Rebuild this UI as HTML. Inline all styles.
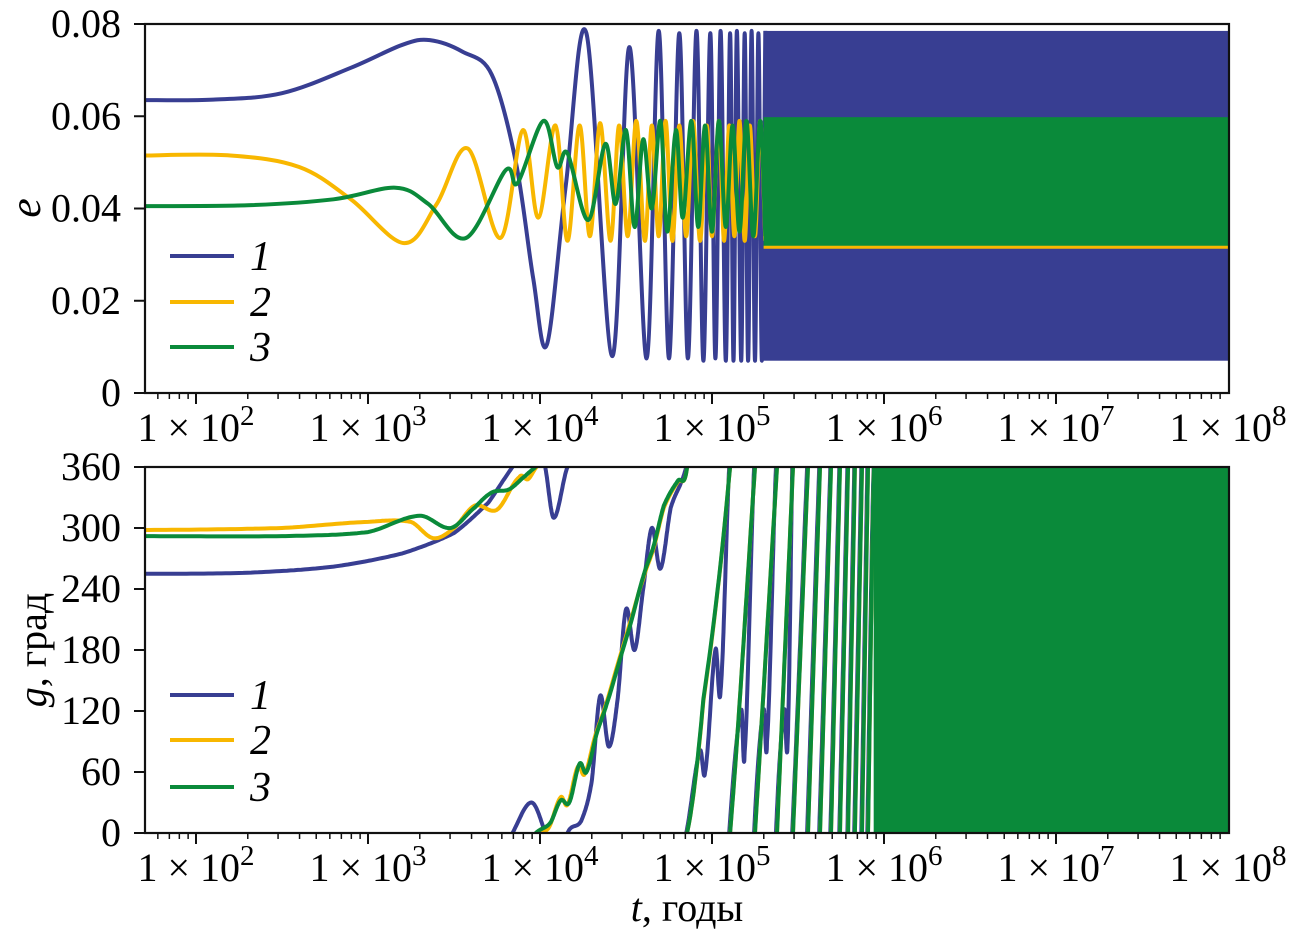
<!DOCTYPE html>
<html><head><meta charset="utf-8"><style>
html,body{margin:0;padding:0;background:#fff;}
svg text{font-family:"Liberation Serif",serif;fill:#000;}
</style></head><body>
<svg id="chart" xmlns="http://www.w3.org/2000/svg" width="1290" height="934" viewBox="0 0 1290 934">
<g id="topPanel"></g>
<g id="botPanel"></g>
</svg>
<script>
// ---- data (x in log10 years) ----
const xTickExps = [2,3,4,5,6,7,8];
const eTickValues = [0,0.02,0.04,0.06,0.08];
const eTickLabels = ["0","0.02","0.04","0.06","0.08"];
const gTickValues = [0,60,120,180,240,300,360];
const seriesNames = ["1","2","3"];
const seriesColors = ["#383e92","#f8b700","#0a8a3a"];
// eccentricity curves (log10 t, e)
const e1 = [[1.69,0.0635],[2.1,0.0636],[2.5,0.065],[2.9,0.0705],[3.2,0.0755],[3.36,0.0765],[3.55,0.074],[3.72,0.069],[3.86,0.05],[3.96,0.025],[4.04,0.0105],[4.15,0.045],[4.27,0.078],[4.42,0.008],[4.52,0.075],[4.62,0.0075],[4.69,0.0785],[4.75,0.0075],[4.81,0.078],[4.86,0.0075],[4.91,0.0785],[4.95,0.007],[4.99,0.078],[5.02,0.0075],[5.05,0.0785],[5.08,0.007],[5.105,0.078],[5.125,0.007],[5.145,0.0785],[5.17,0.007],[5.19,0.078],[5.21,0.007],[5.23,0.0785],[5.25,0.007],[5.27,0.078],[5.29,0.007],[5.31,0.0785]];
const e2 = [[1.69,0.0515],[2.2,0.0515],[2.6,0.049],[2.9,0.042],[3.21,0.0325],[3.4,0.041],[3.58,0.053],[3.77,0.0336],[3.9,0.057],[3.99,0.038],[4.09,0.058],[4.16,0.033],[4.23,0.058],[4.29,0.034],[4.35,0.0585],[4.41,0.033],[4.46,0.058],[4.51,0.034],[4.56,0.059],[4.61,0.033],[4.65,0.058],[4.69,0.034],[4.73,0.059],[4.77,0.033],[4.81,0.058],[4.85,0.034],[4.89,0.059],[4.93,0.033],[4.97,0.058],[5.0,0.034],[5.04,0.059],[5.07,0.033],[5.1,0.058],[5.13,0.034],[5.16,0.059],[5.19,0.033],[5.22,0.058],[5.25,0.034],[5.28,0.059],[5.31,0.033]];
const e3 = [[1.69,0.0405],[2.3,0.0407],[2.8,0.042],[3.16,0.0445],[3.35,0.041],[3.57,0.0336],[3.8,0.0483],[3.87,0.0455],[4.02,0.059],[4.1,0.049],[4.16,0.052],[4.28,0.0375],[4.38,0.054],[4.44,0.041],[4.5,0.057],[4.55,0.036],[4.6,0.055],[4.65,0.04],[4.7,0.059],[4.74,0.035],[4.79,0.057],[4.83,0.038],[4.88,0.059],[4.92,0.036],[4.96,0.058],[5.0,0.035],[5.04,0.059],[5.08,0.036],[5.12,0.058],[5.16,0.035],[5.2,0.059],[5.24,0.034],[5.28,0.059],[5.31,0.034]];
// dense-oscillation envelopes: [series, logStart, logEnd, eMin, eMax]
const eBands = [[0,5.3,8,0.007,0.0785],[2,5.3,8,0.0315,0.0598]];
const e2Floor = [5.3,8,0.0316];
// argument of pericentre, unwrapped degrees (log10 t, g)
const g1 = [[1.69,255],[2.3,256],[2.8,262],[3.2,275],[3.5,295],[3.7,325],[3.84,360],[3.95,390],[4.03,360],[4.08,310],[4.16,360],[4.24,372],[4.3,410],[4.35,495],[4.4,445],[4.45,490],[4.5,580],[4.55,540],[4.6,600],[4.65,660],[4.7,620],[4.76,680],[4.85,720],[4.93,800],[4.96,780],[5.02,900],[5.05,860],[5.1,1080],[5.17,1200],[5.19,1160],[5.245,1440],[5.3,1560],[5.32,1530],[5.372,1800],[5.42,1920],[5.44,1890],[5.466,2160],[5.553,2520],[5.623,2880],[5.688,3240],[5.74,3600],[5.787,3960],[5.827,4320],[5.868,4680],[5.903,5040],[5.94,5400]];
const g2 = [[1.69,298],[2.5,300],[3.0,306],[3.25,306],[3.38,290],[3.5,300],[3.62,322],[3.75,318],[3.88,350],[3.93,348],[3.98,360],[4.05,365],[4.12,395],[4.16,388],[4.22,425],[4.26,418],[4.32,455],[4.38,485],[4.45,525],[4.52,565],[4.6,610],[4.66,640],[4.72,680],[4.8,705],[4.855,720],[4.95,850],[5.105,1080],[5.25,1440],[5.378,1800],[5.471,2160],[5.558,2520],[5.628,2880],[5.692,3240],[5.744,3600],[5.791,3960],[5.831,4320],[5.872,4680],[5.907,5040],[5.942,5400]];
const g3 = [[1.69,292],[2.5,292],[3.0,296],[3.3,312],[3.48,300],[3.62,320],[3.72,335],[3.82,338],[3.92,352],[3.99,362],[4.06,370],[4.12,392],[4.17,390],[4.23,428],[4.27,420],[4.33,458],[4.39,488],[4.46,528],[4.53,568],[4.6,612],[4.66,642],[4.72,682],[4.8,706],[4.855,720],[4.95,852],[5.105,1080],[5.25,1440],[5.378,1800],[5.471,2160],[5.558,2520],[5.628,2880],[5.692,3240],[5.744,3600],[5.791,3960],[5.831,4320],[5.872,4680],[5.907,5040],[5.942,5400]];
const gFill = [5.94,8,0,360];

// ---- layout ----
const L=145,R=1229;
const NS="http://www.w3.org/2000/svg";
function X(lg){return 196+172*(lg-2);}
function YE(v){return 393-369*(v/0.08);}
function YG(v){return 833-366*(v/360);}
function mk(tag,attrs,parent){const el=document.createElementNS(NS,tag);for(const k in attrs)el.setAttribute(k,attrs[k]);parent.appendChild(el);return el;}
function txt(parent,attrs,parts){
  const t=mk('text',attrs,parent);
  parts.forEach(p=>{
    if(typeof p==='string'){t.appendChild(document.createTextNode(p));}
    else{const s=mk('tspan',p.a,t);s.textContent=p.s;}
  });
  return t;
}
const topG=document.getElementById('topPanel'), botG=document.getElementById('botPanel');

function smoothPath(pts,fx,fy){
  const P=pts.map(p=>[fx(p[0]),fy(p[1])]);
  let d="M"+P[0][0].toFixed(1)+","+P[0][1].toFixed(1);
  for(let i=0;i<P.length-1;i++){
    const p0=P[Math.max(0,i-1)],p1=P[i],p2=P[i+1],p3=P[Math.min(P.length-1,i+2)];
    const c1x=p1[0]+(p2[0]-p0[0])/6,c1y=p1[1]+(p2[1]-p0[1])/6;
    const c2x=p2[0]-(p3[0]-p1[0])/6,c2y=p2[1]-(p3[1]-p1[1])/6;
    d+=" C"+Math.max(p1[0],Math.min(p2[0],c1x)).toFixed(1)+","+c1y.toFixed(1)+" "+Math.max(p1[0],Math.min(p2[0],c2x)).toFixed(1)+","+c2y.toFixed(1)+" "+p2[0].toFixed(1)+","+p2[1].toFixed(1);
  }
  return d;
}

const svgEl=document.getElementById('chart');
const defs=mk('defs',{},svgEl);
const cp1=mk('clipPath',{id:'c1'},defs); mk('rect',{x:L,y:24,width:R-L,height:369},cp1);
const cp2=mk('clipPath',{id:'c2'},defs); mk('rect',{x:L,y:467,width:R-L,height:366},cp2);

// ---- top panel ----
const tData=mk('g',{'clip-path':'url(#c1)'},topG);


const eSeries=[e1,e2,e3];
const b0=eBands[0];
let r=mk('rect',{x:X(b0[1]),y:YE(b0[4]),width:X(b0[2])-X(b0[1]),height:YE(b0[3])-YE(b0[4]),fill:seriesColors[b0[0]]},tData);


[0,1,2].forEach(i=>{
  const p=mk('path',{d:smoothPath(eSeries[i],X,YE),fill:'none',stroke:seriesColors[i],'stroke-width':4,'stroke-linejoin':'round'},tData);
  
  
});
const b1=eBands[1];
r=mk('rect',{x:X(b1[1]),y:YE(b1[4]),width:X(b1[2])-X(b1[1]),height:YE(b1[3])-YE(b1[4]),fill:seriesColors[b1[0]]},tData);


r=mk('line',{x1:X(e2Floor[0]),x2:X(e2Floor[1]),y1:YE(e2Floor[2]),y2:YE(e2Floor[2]),stroke:seriesColors[1],'stroke-width':3},tData);



// ---- bottom panel ----
const bData=mk('g',{'clip-path':'url(#c2)'},botG);


function wrapPath(pts){
  let d="";
  let prevK=null;
  const N=pts.length;
  for(let i=0;i<N-1;i++){
    const x0=pts[i][0],v0=pts[i][1],x1=pts[i+1][0],v1=pts[i+1][1];
    const vp=pts[Math.max(0,i-1)][1],vn=pts[Math.min(N-1,i+2)][1];
    const m0=(v1-vp)/2,m1=(vn-v0)/2;
    const n=24;
    for(let j=(i==0?0:1);j<=n;j++){
      const s=j/n, lx=x0+(x1-x0)*s;
      const h00=2*s*s*s-3*s*s+1,h10=s*s*s-2*s*s+s,h01=-2*s*s*s+3*s*s,h11=s*s*s-s*s;
      const v=h00*v0+h10*m0+h01*v1+h11*m1;
      const k=Math.floor(v/360), w=v-360*k;
      const px=X(lx).toFixed(1);
      if(prevK===null){d+="M"+px+","+YG(w).toFixed(1);}
      else if(k!==prevK){
        if(k>prevK){d+=" L"+px+","+YG(360)+" M"+px+","+YG(0)+" L"+px+","+YG(w).toFixed(1);}
        else{d+=" L"+px+","+YG(0)+" M"+px+","+YG(360)+" L"+px+","+YG(w).toFixed(1);}
      } else d+=" L"+px+","+YG(w).toFixed(1);
      prevK=k;
    }
  }
  return d;
}
const gSeries=[g1,g2,g3];
[0,1,2].forEach(i=>{
  const p=mk('path',{d:wrapPath(gSeries[i]),fill:'none',stroke:seriesColors[i],'stroke-width':4,'stroke-linejoin':'round'},bData);
  
  
});
r=mk('rect',{x:X(gFill[0]),y:YG(gFill[3]),width:X(gFill[1])-X(gFill[0]),height:YG(gFill[2])-YG(gFill[3]),fill:seriesColors[2]},bData);



// ---- axes ----
function axes(g,y0,y1,yTicks,yLabels,yFn,prefix){
  const f=mk('rect',{x:L,y:y0,width:R-L,height:y1-y0,fill:'none',stroke:'#111','stroke-width':2.2},g);
  
  
  yTicks.forEach((v,i)=>{
    const yy=yFn(v);
    mk('line',{x1:L-11,x2:L,y1:yy,y2:yy,stroke:'#111','stroke-width':2},g);
    const t=txt(g,{x:121,y:yy+13,'text-anchor':'end','font-size':40},[yLabels[i]]);
    
    
  });
  for(let e=1;e<8;e++){
    for(let m=1;m<10;m++){
      const lg=e+Math.log10(m);
      const xx=X(lg);
      if(xx<L-0.5||xx>R+0.5)continue;
      const major=(m===1);
      mk('line',{x1:xx,x2:xx,y1:y1,y2:y1+(major?11:6),stroke:'#111','stroke-width':major?2:1.5},g);
    }
  }
  xTickExps.forEach(e=>{
    const t=txt(g,{x:X(e),y:y1+48,'text-anchor':'middle','font-size':40},['1 × 10',{s:String(e),a:{dy:-16,'font-size':29}}]);
    
    
  });
}
axes(topG,24,393,eTickValues,eTickLabels,YE,'e-axis');
axes(botG,467,833,gTickValues,gTickValues.map(String),YG,'g-axis');

function legend(g,ys,prefix){
  ys.forEach((yy,i)=>{
    const lg=mk('g',{},g);
    
    
    mk('line',{x1:170,x2:234,y1:yy,y2:yy,stroke:seriesColors[i],'stroke-width':4},lg);
    txt(lg,{x:250,y:yy+14,'font-size':42,'font-style':'italic'},[seriesNames[i]]);
  });
}
legend(topG,[256,302,347],'e');
legend(botG,[695,740,787],'g');

let t=txt(topG,{x:0,y:0,'font-size':44,'font-style':'italic',transform:'translate(40,208) rotate(-90)','text-anchor':'middle'},['e']);


t=txt(botG,{x:0,y:0,'font-size':40,transform:'translate(46,650) rotate(-90)','text-anchor':'middle'},[{s:'g',a:{'font-style':'italic'}},', град']);


t=txt(botG,{x:687,y:921,'font-size':40,'text-anchor':'middle'},[{s:'t',a:{'font-style':'italic'}},', годы']);


</script>
</body></html>
